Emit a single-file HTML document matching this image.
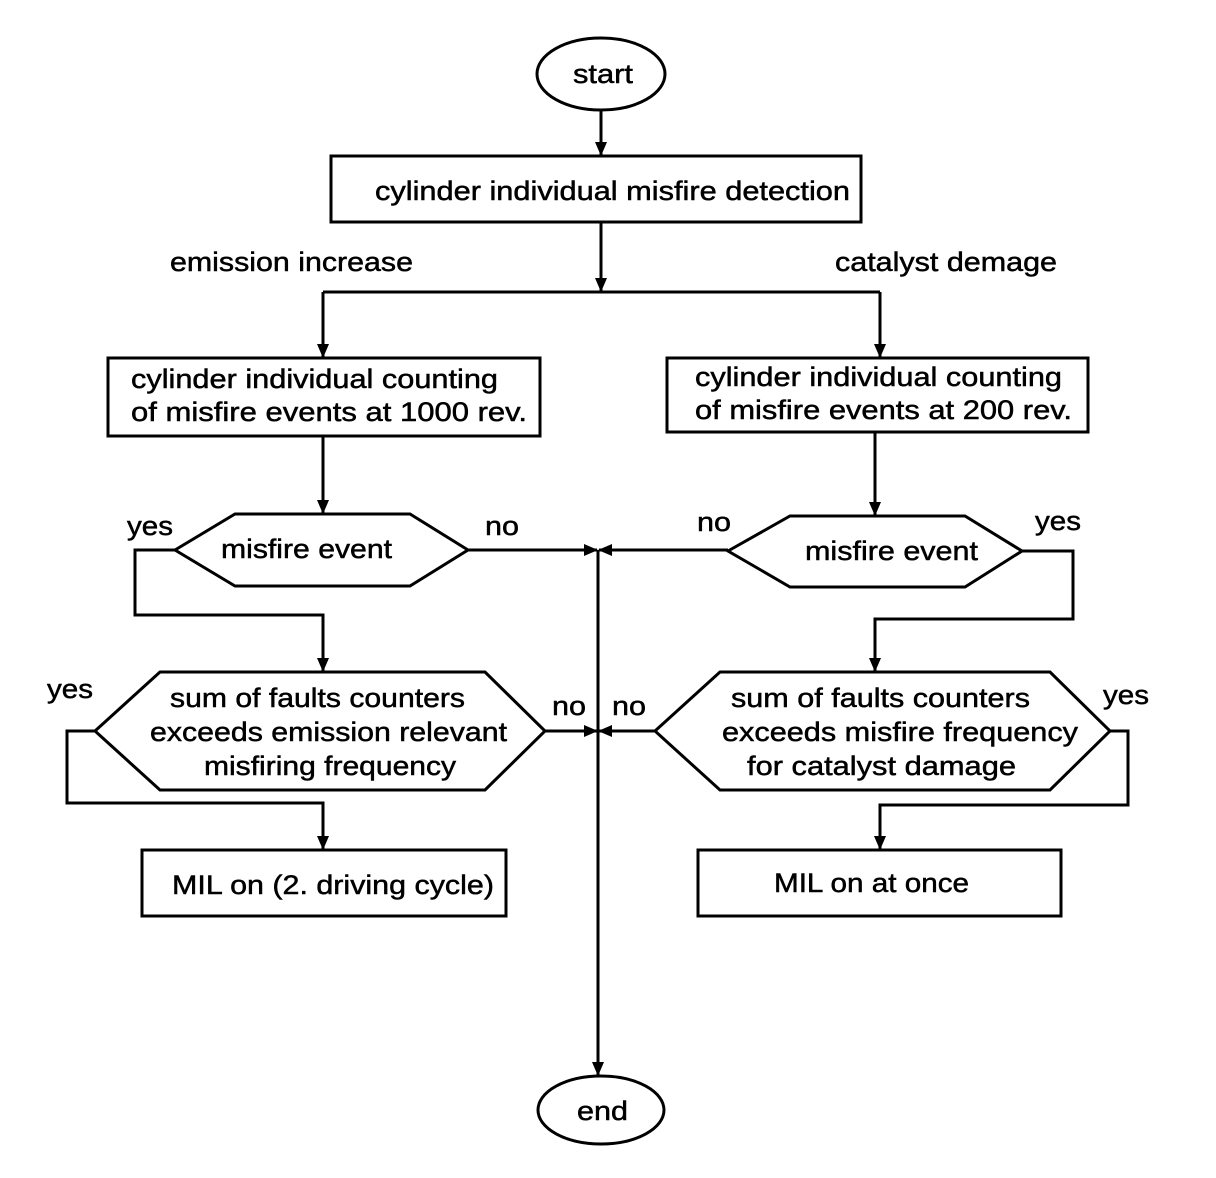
<!DOCTYPE html>
<html><head><meta charset="utf-8"><style>
html,body{margin:0;padding:0;background:#fff}
svg{display:block}
text{font-family:"Liberation Sans",Arial,sans-serif;font-size:27px;fill:#000;stroke:#000;stroke-width:0.5}
</style></head><body>
<svg width="1216" height="1178" viewBox="0 0 1216 1178" xmlns="http://www.w3.org/2000/svg">
<defs><marker id="a" markerWidth="14" markerHeight="12" refX="13" refY="6" orient="auto" markerUnits="userSpaceOnUse"><path d="M0,0 L14,6 L0,12 Z" fill="#000"/></marker></defs>
<g fill="none" stroke="#000" stroke-width="3">
<ellipse cx="601" cy="74" rx="64" ry="36"/>
<line x1="601" y1="110" x2="601" y2="155" marker-end="url(#a)"/>
<rect x="331" y="156" width="530" height="66"/>
<line x1="601" y1="222" x2="601" y2="291" marker-end="url(#a)"/>
<line x1="323" y1="292" x2="880" y2="292"/>
<line x1="323" y1="292" x2="323" y2="357" marker-end="url(#a)"/>
<line x1="880" y1="292" x2="880" y2="357" marker-end="url(#a)"/>
<rect x="108" y="358" width="432" height="78"/>
<rect x="667" y="358" width="421" height="74"/>
<line x1="323" y1="436" x2="323" y2="513" marker-end="url(#a)"/>
<line x1="875" y1="432" x2="875" y2="515" marker-end="url(#a)"/>
<polygon points="175,550 235,514 410,514 468,550 410,586 235,586"/>
<polygon points="728,551 790,516 965,516 1022,551 965,587 790,587"/>
<line x1="468" y1="550" x2="597" y2="550" marker-end="url(#a)"/>
<line x1="728" y1="550" x2="599" y2="550" marker-end="url(#a)"/>
<polyline points="175,550 135,550 135,615 323,615 323,671" marker-end="url(#a)"/>
<polyline points="1022,551 1073,551 1073,619 875,619 875,671" marker-end="url(#a)"/>
<polygon points="95,731 160,672 485,672 545,731 485,790 160,790"/>
<polygon points="655,731 720,672 1050,672 1110,731 1050,790 720,790"/>
<line x1="545" y1="731" x2="597" y2="731" marker-end="url(#a)"/>
<line x1="655" y1="731" x2="599" y2="731" marker-end="url(#a)"/>
<polyline points="95,731 67,731 67,803 323,803 323,849" marker-end="url(#a)"/>
<polyline points="1110,731 1128,731 1128,805 880,805 880,849" marker-end="url(#a)"/>
<rect x="142" y="850" width="364" height="66"/>
<rect x="698" y="850" width="363" height="66"/>
<line x1="598" y1="550" x2="598" y2="1075" marker-end="url(#a)"/>
<ellipse cx="601" cy="1110" rx="63" ry="34"/>
</g>
<g>
<text x="573" y="83" textLength="60" lengthAdjust="spacingAndGlyphs">start</text>
<text x="375" y="200" textLength="475" lengthAdjust="spacingAndGlyphs">cylinder individual misfire detection</text>
<text x="170" y="271" textLength="243" lengthAdjust="spacingAndGlyphs">emission increase</text>
<text x="835" y="271" textLength="222" lengthAdjust="spacingAndGlyphs">catalyst demage</text>
<text x="131" y="388" textLength="367" lengthAdjust="spacingAndGlyphs">cylinder individual counting</text>
<text x="131" y="421" textLength="396" lengthAdjust="spacingAndGlyphs">of misfire events at 1000 rev.</text>
<text x="695" y="386" textLength="367" lengthAdjust="spacingAndGlyphs">cylinder individual counting</text>
<text x="695" y="419" textLength="377" lengthAdjust="spacingAndGlyphs">of misfire events at 200 rev.</text>
<text x="221" y="558" textLength="171" lengthAdjust="spacingAndGlyphs">misfire event</text>
<text x="805" y="560" textLength="173" lengthAdjust="spacingAndGlyphs">misfire event</text>
<text x="127" y="535" textLength="46" lengthAdjust="spacingAndGlyphs">yes</text>
<text x="485" y="535" textLength="34" lengthAdjust="spacingAndGlyphs">no</text>
<text x="697" y="531" textLength="34" lengthAdjust="spacingAndGlyphs">no</text>
<text x="1035" y="530" textLength="46" lengthAdjust="spacingAndGlyphs">yes</text>
<text x="170" y="707" textLength="295" lengthAdjust="spacingAndGlyphs">sum of faults counters</text>
<text x="150" y="741" textLength="357" lengthAdjust="spacingAndGlyphs">exceeds emission relevant</text>
<text x="204" y="775" textLength="252" lengthAdjust="spacingAndGlyphs">misfiring frequency</text>
<text x="731" y="707" textLength="299" lengthAdjust="spacingAndGlyphs">sum of faults counters</text>
<text x="722" y="741" textLength="356" lengthAdjust="spacingAndGlyphs">exceeds misfire frequency</text>
<text x="747" y="775" textLength="269" lengthAdjust="spacingAndGlyphs">for catalyst damage</text>
<text x="47" y="698" textLength="46" lengthAdjust="spacingAndGlyphs">yes</text>
<text x="552" y="715" textLength="34" lengthAdjust="spacingAndGlyphs">no</text>
<text x="612" y="715" textLength="34" lengthAdjust="spacingAndGlyphs">no</text>
<text x="1103" y="704" textLength="46" lengthAdjust="spacingAndGlyphs">yes</text>
<text x="172" y="894" textLength="322" lengthAdjust="spacingAndGlyphs">MIL on (2. driving cycle)</text>
<text x="774" y="892" textLength="195" lengthAdjust="spacingAndGlyphs">MIL on at once</text>
<text x="577" y="1120" textLength="51" lengthAdjust="spacingAndGlyphs">end</text>
</g>
</svg>
</body></html>
